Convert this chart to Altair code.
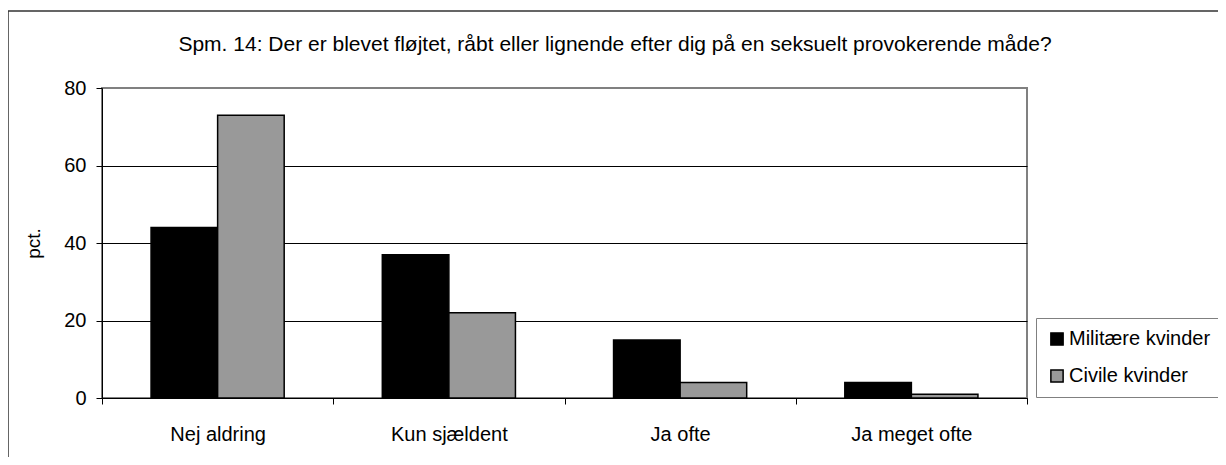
import altair as alt
import pandas as pd

categories = ["Nej aldring", "Kun sjældent", "Ja ofte", "Ja meget ofte"]
series = ["Militære kvinder", "Civile kvinder"]
militaere = [44, 37, 15, 4]
civile = [73, 22, 4, 1]
colors = ["#000000", "#999999"]
title_text = "Spm. 14: Der er blevet fløjtet, råbt eller lignende efter dig på en seksuelt provokerende måde?"

rows = []
for c, m, v in zip(categories, militaere, civile):
    rows.append({"kategori": c, "gruppe": series[0], "pct": m})
    rows.append({"kategori": c, "gruppe": series[1], "pct": v})
df = pd.DataFrame(rows)

FONT = "Liberation Sans"

bars = alt.Chart(df).mark_bar(stroke="black", strokeWidth=1.5).encode(
    x=alt.X("kategori:N", sort=categories,
            scale=alt.Scale(paddingInner=0, paddingOuter=0),
            axis=alt.Axis(title=None, labelAngle=0, tickBand="extent", tickSize=6,
                          labelPadding=20, labelFontSize=20, labelColor="black",
                          domainColor="black", tickColor="black", labelFont=FONT)),
    xOffset=alt.XOffset("gruppe:N", sort=series,
                        scale=alt.Scale(paddingOuter=0.737, paddingInner=0)),
    y=alt.Y("pct:Q", scale=alt.Scale(domain=[0, 80]),
            axis=alt.Axis(title="pct.", values=[0, 20, 40, 60, 80], tickSize=6,
                          labelPadding=10, labelFontSize=20, titleFontSize=19,
                          titleFontWeight="normal", titlePadding=20,
                          labelColor="black", titleColor="black", labelFont=FONT, titleFont=FONT,
                          domainColor="black", tickColor="black",
                          gridColor=alt.condition("datum.value === 80", alt.value("#808080"), alt.value("black")),
                          gridWidth=1)),
    color=alt.Color("gruppe:N", sort=series,
                    scale=alt.Scale(domain=series, range=colors),
                    legend=alt.Legend(title=None, orient="none", legendX=934, legendY=230,
                                      symbolType="square", symbolSize=150,
                                      symbolStrokeColor="black", symbolStrokeWidth=1.5,
                                      labelFontSize=20, labelFont=FONT, labelColor="black",
                                      rowPadding=17, padding=11, strokeColor="#808080",
                                      labelOffset=2, symbolOpacity=1)),
)

border = alt.Chart(alt.Data(values=[{}])).mark_rect(
    filled=False, stroke="#333333", strokeWidth=1.5, clip=False
).encode(x=alt.value(-94), x2=alt.value(1300), y=alt.value(-77), y2=alt.value(500))

title = alt.Chart(alt.Data(values=[{"t": title_text}])).mark_text(
    font=FONT, fontSize=21, color="black", align="center", baseline="middle", clip=False
).encode(text="t:N", x=alt.value(513), y=alt.value(-43))

chart = alt.layer(border, bars, title).properties(
    width=925, height=310,
    autosize=alt.AutoSizeParams(type="none"),
    padding={"left": 94, "top": 80, "right": 191, "bottom": 59},
).configure_view(stroke="#808080", strokeWidth=2).configure_axis(grid=True)

chart = chart.configure_axisX(grid=False)

chart.save("out.html", embed_options={"renderer": "svg", "actions": False})
